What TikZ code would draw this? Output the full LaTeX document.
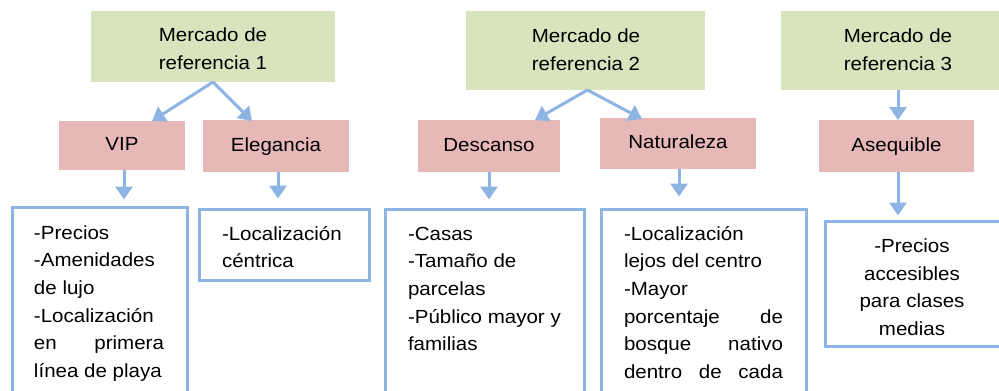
\documentclass[tikz,border=0pt]{standalone}
\usepackage{fontspec}
\setmainfont{Liberation Sans}[FakeStretch=1.08]
\usetikzlibrary{arrows.meta,calc}
\definecolor{mgreen}{HTML}{D7E4BD}
\definecolor{mpink}{HTML}{E6B9B8}
\definecolor{mblue}{HTML}{8EB4E3}
\begin{document}
\begin{tikzpicture}[x=1pt,y=-1pt,
  every node/.style={inner sep=0pt,outer sep=0pt},
  txt/.style={font=\fontsize{19}{27.7}\selectfont},
  greenbox/.style={fill=mgreen,anchor=north west},
  pinkbox/.style={fill=mpink,txt,text height=14pt,text depth=4pt},
  bluebox/.style={draw=mblue,line width=3pt},
  arr/.style={draw=mblue,line width=3pt,-{Triangle[length=13pt,width=17pt]}}]
\clip (0,0) rectangle (999,391);
\fill[white] (0,0) rectangle (999,391);
% green boxes
\node[greenbox,minimum width=244pt,minimum height=71pt] (g1) at (91,11) {};
\node[greenbox,minimum width=239pt,minimum height=79pt] (g2) at (466,11) {};
\node[greenbox,minimum width=222pt,minimum height=79pt] (g3) at (781,11) {};
\node[txt,anchor=base] (g1t) at (213,41.7) {\parbox[t]{200pt}{\centering Mercado de\\referencia 1}};
\node[txt,anchor=base] (g2t) at (586,42.5) {\parbox[t]{200pt}{\centering Mercado de\\referencia 2}};
\node[txt,anchor=base] (g3t) at (898,42.5) {\parbox[t]{200pt}{\centering Mercado de\\referencia 3}};
% pink boxes
\node[pinkbox,minimum width=126pt,minimum height=49pt] (vip) at (122,145.5) {VIP};
\node[pinkbox,minimum width=146pt,minimum height=52pt] (ele) at (276,146) {Elegancia};
\node[pinkbox,minimum width=142pt,minimum height=52pt] (des) at (489,146) {Descanso};
\node[pinkbox,minimum width=156pt,minimum height=51pt] (nat) at (678,143.5) {Naturaleza};
\node[pinkbox,minimum width=155pt,minimum height=52pt] (asq) at (896.5,146) {Asequible};
% blue boxes
\node[bluebox,anchor=north west,minimum width=175pt,minimum height=260pt] (b1) at (12.5,207.5) {};
\node[bluebox,anchor=north west,minimum width=170pt,minimum height=71pt] (b2) at (199.5,209.5) {};
\node[bluebox,anchor=north west,minimum width=199pt,minimum height=260pt] (b3) at (385.5,209.5) {};
\node[bluebox,anchor=north west,minimum width=205pt,minimum height=260pt] (b4) at (601.5,209.5) {};
\node[bluebox,anchor=north west,minimum width=190pt,minimum height=125pt] (b5) at (825.5,221.5) {};
% texts
\node[txt,anchor=base west] (b1t) at (34,239) {\parbox[t]{130pt}{\raggedright
-Precios\\-Amenidades\\de lujo\\-Localización\\\makebox[\linewidth][s]{en primera}\\línea de playa}};
\node[txt,anchor=base west] (b2t) at (222,240) {\parbox[t]{140pt}{\raggedright
-Localización\\céntrica}};
\node[txt,anchor=base west] (b3t) at (408,240) {\parbox[t]{170pt}{\raggedright
-Casas\\-Tamaño de\\parcelas\\-Público mayor y\\familias}};
\node[txt,anchor=base west] (b4t) at (624,240) {\parbox[t]{159pt}{\raggedright
-Localización\\lejos del centro\\-Mayor\\\makebox[\linewidth][s]{porcentaje de}\\\makebox[\linewidth][s]{bosque nativo}\\\makebox[\linewidth][s]{dentro de cada}}};
\node[txt,anchor=base] (b5t) at (912,252.5) {\parbox[t]{170pt}{\centering
-Precios\\accesibles\\para clases\\medias}};
% arrows
\draw[arr] (g1.south) -- ([xshift=30pt]vip.north);
\draw[arr] (g1.south) -- ([xshift=-24pt,yshift=-1pt]ele.north);
\draw[arr] ([xshift=2pt]g2.south) -- ([xshift=46pt]des.north);
\draw[arr] ([xshift=2pt]g2.south) -- ([xshift=-36pt,yshift=-1pt]nat.north);
\draw[arr] (g3.south -| 898,0) -- (asq.north -| 898,0);
\draw[arr,shorten >=8pt] ([xshift=2pt]vip.south) -- ([xshift=2pt]vip.south |- b1.north);
\draw[arr,shorten >=11pt] ([xshift=2pt]ele.south) -- ([xshift=2pt]ele.south |- b2.north);
\draw[arr,shorten >=10pt] (des.south) -- (des.south |- b3.north);
\draw[arr,shorten >=13pt] ([xshift=1pt]nat.south) -- ([xshift=1pt]nat.south |- b4.north);
\draw[arr,shorten >=6pt] (asq.south -| 898,0) -- (b5.north -| 898,0);
\end{tikzpicture}
\end{document}
